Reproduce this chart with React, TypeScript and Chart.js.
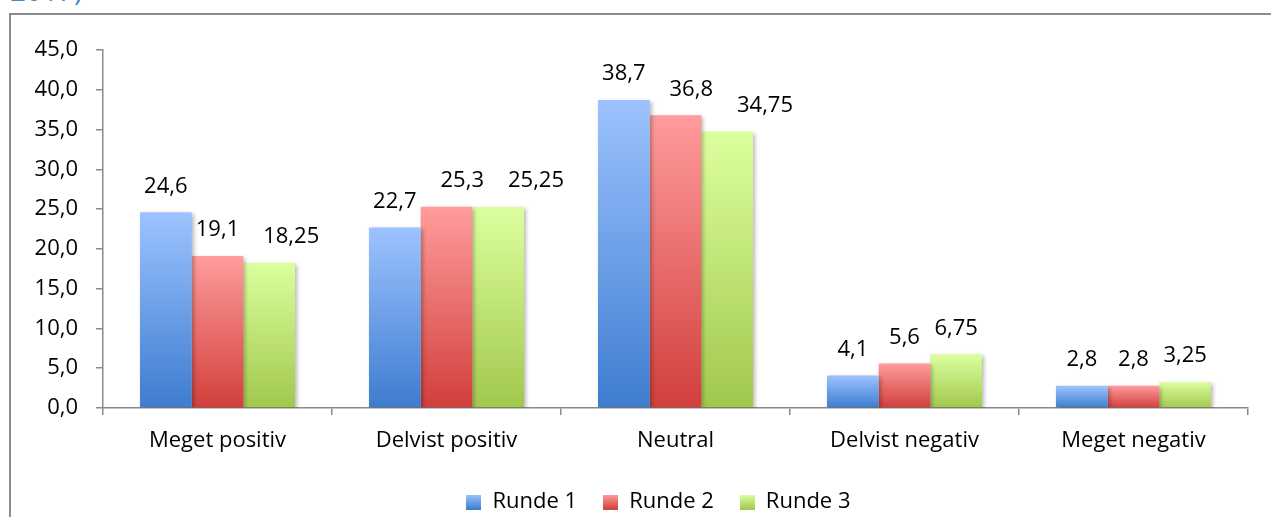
import React, { useEffect, useRef } from "react";
import { Chart, registerables } from "chart.js";

Chart.register(...registerables);

const categories = ["Meget positiv", "Delvist positiv", "Neutral", "Delvist negativ", "Meget negativ"];
const seriesNames = ["Runde 1", "Runde 2", "Runde 3"];
const runde1 = [24.6, 22.7, 38.7, 4.1, 2.8];
const runde2 = [19.1, 25.3, 36.8, 5.6, 2.8];
const runde3 = [18.25, 25.25, 34.75, 6.75, 3.25];
const yTickMax = 45;
const yTickStep = 5;
const titleText = "2017)";

const palette = [
  { light: "#9dc3ff", dark: "#3d7ccf" },
  { light: "#ff9c9c", dark: "#d13f3b" },
  { light: "#dcff9e", dark: "#a1c84d" },
];

const FONT = "'Open Sans', sans-serif";
const fmt = (v: number) => String(v).replace(".", ",");

function makeSwatch(light: string, dark: string) {
  const c = document.createElement("canvas");
  c.width = 15;
  c.height = 15;
  const x = c.getContext("2d")!;
  const g = x.createLinearGradient(0, 0, 0, 15);
  g.addColorStop(0, light);
  g.addColorStop(1, dark);
  x.fillStyle = g;
  x.fillRect(0, 0, 15, 15);
  return c;
}

export default function App() {
  const ref = useRef<HTMLCanvasElement | null>(null);

  useEffect(() => {
    if (!ref.current) return;
    const swatches = palette.map((p) => makeSwatch(p.light, p.dark));
    const allData = [runde1, runde2, runde3];

    const barPlugin = {
      id: "barDeco",
      afterLayout(chart: any) {
        if (chart.legend) {
          chart.legend.left += 29;
          chart.legend.right += 29;
        }
      },
      beforeDatasetsDraw(chart: any) {
        const ctx = chart.ctx;
        ctx.save();
        ctx.shadowColor = "rgba(0,0,0,0.28)";
        ctx.shadowBlur = 4;
        ctx.shadowOffsetX = 2;
        ctx.shadowOffsetY = 2;
      },
      afterDatasetsDraw(chart: any) {
        const ctx = chart.ctx;
        ctx.restore();
        ctx.save();
        ctx.font = `22px ${FONT}`;
        ctx.fillStyle = "#000";
        ctx.textAlign = "center";
        ctx.textBaseline = "middle";
        const n = chart.data.labels.length;
        for (let i = 0; i < n; i++) {
          let prev: { right: number; y: number } | null = null;
          chart.data.datasets.forEach((ds: any, di: number) => {
            const el = chart.getDatasetMeta(di).data[i];
            const text = fmt(ds.data[i]);
            const w = ctx.measureText(text).width;
            let cx = el.x;
            const cy = el.y - 26;
            if (prev && Math.abs(prev.y - cy) < 22 && cx - w / 2 - prev.right < 10) {
              cx = prev.right + 24 + w / 2;
            }
            ctx.fillText(text, cx, cy);
            prev = { right: cx + w / 2, y: cy };
          });
        }
        ctx.restore();
      },
    };

    const chart = new Chart(ref.current, {
      type: "bar",
      data: {
        labels: categories,
        datasets: allData.map((d, di) => ({
          label: seriesNames[di],
          data: d,
          categoryPercentage: 0.677,
          barPercentage: 1,
          borderWidth: 0,
          backgroundColor: (c: any) => {
            const chartObj = c.chart;
            const p = palette[di];
            if (!chartObj.chartArea || c.type !== "data" || !chartObj.scales.y) return p.light;
            const y = chartObj.scales.y;
            const top = y.getPixelForValue(c.raw);
            const bottom = y.getPixelForValue(0);
            if (!isFinite(top) || !isFinite(bottom) || top === bottom) return p.dark;
            const g = chartObj.ctx.createLinearGradient(0, top, 0, bottom);
            g.addColorStop(0, p.light);
            g.addColorStop(1, p.dark);
            return g;
          },
        })),
      },
      options: {
        animation: false,
        responsive: false,
        maintainAspectRatio: false,
        layout: { padding: { top: 35, right: 23, left: 0, bottom: 12 } },
        scales: {
          x: {
            grid: {
              offset: true,
              drawOnChartArea: false,
              drawTicks: true,
              tickLength: 7,
              color: "#8a8a8a",
              lineWidth: 1.5,
            },
            border: { display: true, color: "#8a8a8a", width: 1.5 },
            ticks: {
              color: "#000",
              font: { family: FONT, size: 22 },
              padding: 13,
              maxRotation: 0,
            },
            afterFit(scale: any) {
              scale.height = 57;
            },
          },
          y: {
            min: 0,
            max: yTickMax,
            grid: {
              drawOnChartArea: false,
              drawTicks: true,
              tickLength: 7,
              color: "#8a8a8a",
              lineWidth: 1.5,
            },
            border: { display: true, color: "#8a8a8a", width: 1.5 },
            ticks: {
              stepSize: yTickStep,
              color: "#000",
              padding: 18,
              font: { family: FONT, size: 22 },
              callback: (v: any) => Number(v).toFixed(1).replace(".", ","),
            },
            afterFit(scale: any) {
              scale.width = 92;
            },
          },
        },
        plugins: {
          tooltip: { enabled: false },
          legend: {
            position: "bottom",
            labels: {
              color: "#000",
              font: { family: FONT, size: 22 },
              padding: 26,
              usePointStyle: true,
              boxWidth: 15,
              boxHeight: 15,
              generateLabels(chart: any) {
                const items = Chart.defaults.plugins.legend.labels.generateLabels(chart);
                return items.map((it: any, i: number) => ({
                  ...it,
                  pointStyle: swatches[i],
                  fillStyle: palette[i].light,
                  strokeStyle: "transparent",
                  lineWidth: 0,
                }));
              },
            },
          },
        },
      } as any,
      plugins: [barPlugin],
    });
    return () => chart.destroy();
  }, []);

  return (
    <div style={{ position: "fixed", left: 0, top: 0, width: 1271, height: 517, overflow: "hidden", background: "#fff" }}>
      <div
        style={{
          position: "absolute",
          left: 10,
          top: -24,
          fontFamily: FONT,
          fontSize: 28,
          lineHeight: "28px",
          color: "#4a85c8",
          whiteSpace: "nowrap",
        }}
      >
        {titleText}
      </div>
      <div
        style={{
          position: "absolute",
          left: 9,
          top: 13,
          width: 1400,
          height: 600,
          borderTop: "2px solid #8c8c8c",
          borderLeft: "2px solid #8c8c8c",
        }}
      />
      <canvas
        ref={ref}
        width={1260}
        height={520}
        style={{ position: "absolute", left: 11, top: 15, width: 1260, height: 520 }}
      />
    </div>
  );
}
